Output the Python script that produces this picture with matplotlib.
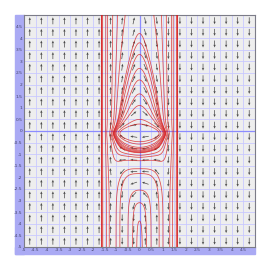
import numpy as np
import matplotlib.pyplot as plt
from matplotlib.patches import Rectangle

# window, grid and arrow cells
x_lim = (-5, 5)
y_lim = (-5, 5)
tick_values = np.arange(-5, 5, 0.5)
cell_centres = np.arange(-4.75, 5, 0.5)

# field: x' = dH/dy, y' = -dH/dx with H = x^2/2 + k(x) * g(y)
g_min, y_min_at = -0.3, -0.1
g_fast, fast_width = 0.651, 0.25
g_slow, saddle_dist = 0.251, 6.5
g_floor, floor_width = 1.0, 1.48

# points the drawn solution curves pass through
tip_heights = [0.3, 0.5, 1.1, 1.6, 2.2, 2.7, 3.3, 3.8, 4.2]
top_crossings = [0.62, 0.95, 1.16, 1.38, 1.65]
bottom_crossings = [0.12, 0.3, 0.5, 0.85]


def k(x):
    return np.exp(-0.5 * x ** 2 - 0.5 * x ** 4)


def g(y):
    v = np.asarray(y, dtype=float) - y_min_at
    fast = g_fast * v ** 2 / (v ** 2 + fast_width ** 2)
    upper = g_slow * (1 - (1 - v / saddle_dist) ** 2)
    lower = g_floor * (1 - np.exp(-(v / floor_width) ** 2))
    return g_min + fast + np.where(v > 0, upper, lower)


def dg(y, h=1e-4):
    return (g(y + h) - g(y - h)) / (2 * h)


def H(x, y):
    return x ** 2 / 2 + k(x) * g(y)


def field(x, y):
    kx = k(x)
    return kx * dg(y), -x + (x + 2 * x ** 3) * kx * g(y)


fig = plt.figure(figsize=(2.68, 2.57), dpi=100)
W, Hpx = 268, 257
# lavender label strips on the left and bottom
for rect in [(15, 3, 9, 239), (15, 3, 240, 7)]:
    fig.patches.append(Rectangle((rect[0] / W, rect[1] / Hpx), rect[2] / W, rect[3] / Hpx,
                                 transform=fig.transFigure, color="#aaaaf4", zorder=-1))

ax = fig.add_axes([24 / W, 10 / Hpx, 231 / W, 232 / Hpx])
ax.set_facecolor("#eeeeee")
ax.set_xlim(*x_lim)
ax.set_ylim(*y_lim)
ax.set_xticks(tick_values)
ax.set_yticks(tick_values)
ax.set_xticklabels([f"{v:g}" for v in tick_values])
ax.set_yticklabels([f"{v:g}" for v in tick_values])
ax.tick_params(length=0, labelsize=3.2, labelcolor="#44446a", pad=1.0)
ax.grid(True, color="#c9c9ff", linewidth=0.6)
ax.set_axisbelow(True)
ax.axhline(0, color="#8c8cff", linewidth=0.9, zorder=1)
ax.axvline(0, color="#8c8cff", linewidth=0.9, zorder=1)
for s in ax.spines.values():
    s.set_color("#7c7c88")
    s.set_linewidth(0.8)

# direction field arrows, all the same length
X, Y = np.meshgrid(cell_centres, cell_centres)
U, V = field(X, Y)
n = np.hypot(U, V)
n[n == 0] = 1
ax.quiver(X, Y, U / n * 0.3, V / n * 0.3, units="xy", scale=1, pivot="mid",
          width=0.03, headwidth=3.5, headlength=4, headaxislength=3.5,
          color="#4a4a4a", zorder=2)

# solution curves = level sets of H through the read points
levels = [H(0.0, yt) for yt in tip_heights]
levels += [H(xt, y_lim[1]) for xt in top_crossings]
levels += [H(xb, y_lim[0]) for xb in bottom_crossings]
levels = np.unique(np.round(levels, 4))

gx = np.linspace(-5, 5, 600)
GX, GY = np.meshgrid(gx, gx)
ax.contour(GX, GY, H(GX, GY), levels=levels, colors="#d81c1c",
           linewidths=0.55, alpha=0.78, zorder=3)

fig.savefig("out.png", dpi=100)
